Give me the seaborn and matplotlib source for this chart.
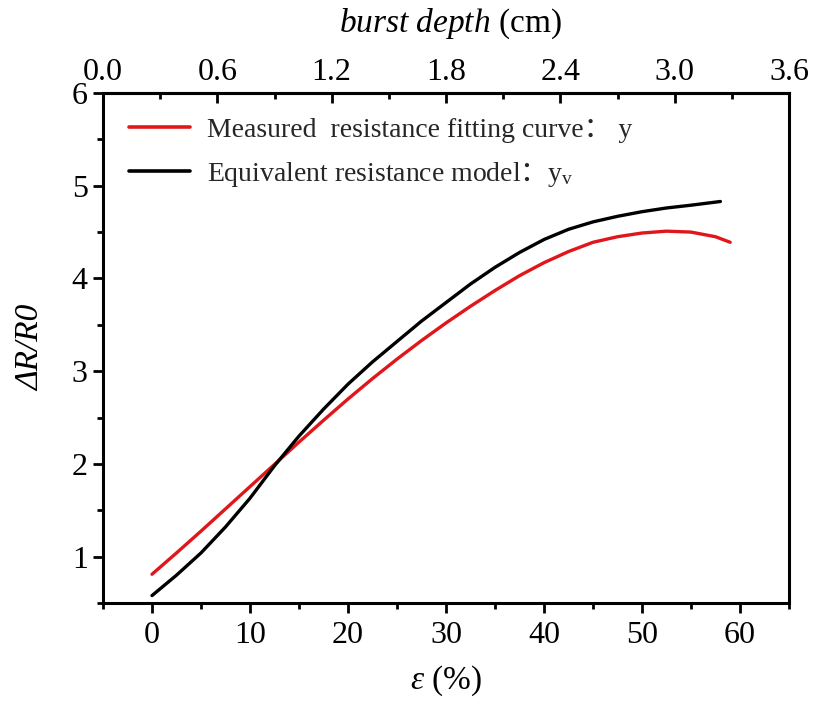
import matplotlib
matplotlib.use("Agg")
import matplotlib.pyplot as plt
import seaborn as sns
import pandas as pd
import numpy as np
from matplotlib.ticker import MultipleLocator, FixedLocator

# ---- data ----
strain_measured = [0, 2.5, 5, 7.5, 10, 12.5, 15, 17.5, 20, 22.5, 25, 27.5, 30, 32.5,
                   35, 37.5, 40, 42.5, 45, 47.5, 50, 52.5, 55, 57.5, 59]
resist_measured = [0.81, 1.04, 1.275, 1.515, 1.755, 1.995, 2.235, 2.47, 2.70, 2.92, 3.13, 3.33,
                   3.52, 3.70, 3.87, 4.03, 4.17, 4.29, 4.39, 4.45, 4.49, 4.51, 4.50, 4.45, 4.39]

strain_model = [0, 2.5, 5, 7.5, 10, 12.5, 15, 17.5, 20, 22.5, 25, 27.5, 30, 32.5,
                35, 37.5, 40, 42.5, 45, 47.5, 50, 52.5, 55, 58]
resist_model = [0.58, 0.80, 1.04, 1.32, 1.63, 1.98, 2.30, 2.59, 2.86, 3.10, 3.32, 3.54,
                3.74, 3.94, 4.12, 4.28, 4.42, 4.53, 4.61, 4.67, 4.72, 4.76, 4.79, 4.83]

label_measured = "Measured  resistance fitting curve\uff1a y"
label_model = "Equivalent resistance model$\\mathsf{\uff1a}$y$_\\mathrm{v}$"

bottom_ticks = [0, 10, 20, 30, 40, 50, 60]
top_ticks = [0.0, 0.6, 1.2, 1.8, 2.4, 3.0, 3.6]
y_ticks = [1, 2, 3, 4, 5, 6]

df_m = pd.DataFrame({"strain": strain_measured, "value": resist_measured})
df_v = pd.DataFrame({"strain": strain_model, "value": resist_model})

sns.set_theme(style="ticks")
plt.rcParams["font.family"] = ["Liberation Serif", "Noto Sans CJK SC", "DejaVu Sans"]
plt.rcParams["mathtext.fontset"] = "custom"
plt.rcParams["mathtext.rm"] = "Liberation Serif"
plt.rcParams["mathtext.it"] = "Liberation Serif:italic"
plt.rcParams["mathtext.sf"] = "Noto Sans CJK SC"

fig = plt.figure(figsize=(8.15, 7.04), dpi=100)
ax = fig.add_axes([103 / 815, 1 - 603 / 704, 686 / 815, 510 / 704])

sns.lineplot(data=df_m, x="strain", y="value", ax=ax, color="#e0161b", linewidth=2.4,
             label=label_measured, sort=False)
sns.lineplot(data=df_v, x="strain", y="value", ax=ax, color="black", linewidth=2.4,
             label=label_model, sort=False)

ax.set_xlim(-5, 65)
ax.set_ylim(0.5, 6)
ax.xaxis.set_major_locator(FixedLocator(bottom_ticks))
ax.xaxis.set_minor_locator(MultipleLocator(5))
ax.yaxis.set_major_locator(FixedLocator(y_ticks))
ax.yaxis.set_minor_locator(MultipleLocator(0.5))

for s in ax.spines.values():
    s.set_linewidth(2.2)
    s.set_color("black")

ax.tick_params(axis="both", which="major", direction="out", length=7, width=2.0,
               labelsize=23, color="black", labelcolor="black")
ax.tick_params(axis="both", which="minor", direction="out", length=4, width=2.0, color="black")
ax.tick_params(axis="x", pad=6)
ax.tick_params(axis="y", pad=4)

ax.set_xlabel("")
ax.set_ylabel("")
ax.text(0.5, -0.153, "$\\varepsilon$ (%)", transform=ax.transAxes, ha="center", va="center",
        fontsize=24, color="black")
ax.text(-0.105, 0.5, "\u0394R/R0", transform=ax.transAxes, ha="center", va="center",
        rotation=90, fontsize=24, style="italic", color="black")

# top axis: burst depth
to_depth = lambda x: (np.asarray(x) + 5) * 3.6 / 70
to_strain = lambda d: np.asarray(d) * 70 / 3.6 - 5
sec = ax.secondary_xaxis("top", functions=(to_depth, to_strain))
sec.xaxis.set_major_locator(FixedLocator(top_ticks))
sec.xaxis.set_minor_locator(MultipleLocator(0.3))
sec.set_xticklabels([f"{t:.1f}" for t in top_ticks])
sec.tick_params(axis="x", which="major", direction="in", length=7, width=2.0,
                labelsize=23, pad=4, color="black", labelcolor="black")
sec.tick_params(axis="x", which="minor", direction="in", length=4, width=2.0, color="black")
sec.spines["top"].set_linewidth(2.2)
sec.set_xlabel("")
fig.text(450 / 815, 1 - 24 / 704, "$\\mathit{burst\\ depth}$ (cm)", ha="center", va="center",
         fontsize=24, color="black")

leg = ax.legend(loc="upper left", frameon=False, fontsize=20, handlelength=2.2,
                borderaxespad=0.3, labelspacing=0.6, handletextpad=0.6,
                bbox_to_anchor=(0.01, 0.99))
for line in leg.get_lines():
    line.set_linewidth(2.6)

fig.savefig("out.png", dpi=100, facecolor="white")
